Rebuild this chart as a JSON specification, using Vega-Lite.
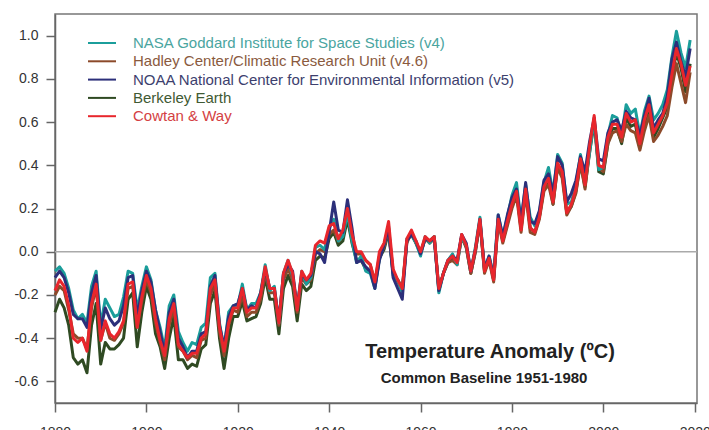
{
  "$schema": "https://vega.github.io/schema/vega-lite/v6.json",
  "autosize": "none",
  "width": 642,
  "height": 389,
  "padding": {"left": 55, "top": 14, "right": 12, "bottom": 27},
  "background": "white",
  "config": {
    "font": "Liberation Sans",
    "view": {"stroke": "#777777", "strokeWidth": 1.5},
    "axis": {"domainColor": "#666666", "domainWidth": 1.5, "tickColor": "#666666", "tickWidth": 1.5, "tickSize": 9, "labelFontSize": 14, "labelColor": "#333333", "grid": false, "title": null}
  },
  "datasets": {
    "temps": [
      {"year":1880,"c_GISS":-0.09,"b_HAD":-0.20,"d_NOAA":-0.12,"a_BEST":-0.28,"e_CW":-0.18},
      {"year":1881,"c_GISS":-0.07,"b_HAD":-0.16,"d_NOAA":-0.09,"a_BEST":-0.22,"e_CW":-0.13},
      {"year":1882,"c_GISS":-0.10,"b_HAD":-0.18,"d_NOAA":-0.12,"a_BEST":-0.26,"e_CW":-0.16},
      {"year":1883,"c_GISS":-0.17,"b_HAD":-0.27,"d_NOAA":-0.19,"a_BEST":-0.34,"e_CW":-0.25},
      {"year":1884,"c_GISS":-0.27,"b_HAD":-0.38,"d_NOAA":-0.29,"a_BEST":-0.49,"e_CW":-0.40},
      {"year":1885,"c_GISS":-0.31,"b_HAD":-0.40,"d_NOAA":-0.31,"a_BEST":-0.52,"e_CW":-0.42},
      {"year":1886,"c_GISS":-0.29,"b_HAD":-0.40,"d_NOAA":-0.31,"a_BEST":-0.50,"e_CW":-0.40},
      {"year":1887,"c_GISS":-0.33,"b_HAD":-0.45,"d_NOAA":-0.35,"a_BEST":-0.56,"e_CW":-0.46},
      {"year":1888,"c_GISS":-0.16,"b_HAD":-0.26,"d_NOAA":-0.19,"a_BEST":-0.34,"e_CW":-0.24},
      {"year":1889,"c_GISS":-0.09,"b_HAD":-0.16,"d_NOAA":-0.11,"a_BEST":-0.24,"e_CW":-0.15},
      {"year":1890,"c_GISS":-0.34,"b_HAD":-0.41,"d_NOAA":-0.36,"a_BEST":-0.52,"e_CW":-0.41},
      {"year":1891,"c_GISS":-0.22,"b_HAD":-0.33,"d_NOAA":-0.26,"a_BEST":-0.42,"e_CW":-0.32},
      {"year":1892,"c_GISS":-0.26,"b_HAD":-0.40,"d_NOAA":-0.31,"a_BEST":-0.45,"e_CW":-0.38},
      {"year":1893,"c_GISS":-0.30,"b_HAD":-0.41,"d_NOAA":-0.34,"a_BEST":-0.45,"e_CW":-0.40},
      {"year":1894,"c_GISS":-0.29,"b_HAD":-0.38,"d_NOAA":-0.32,"a_BEST":-0.43,"e_CW":-0.37},
      {"year":1895,"c_GISS":-0.21,"b_HAD":-0.33,"d_NOAA":-0.25,"a_BEST":-0.40,"e_CW":-0.32},
      {"year":1896,"c_GISS":-0.09,"b_HAD":-0.17,"d_NOAA":-0.12,"a_BEST":-0.22,"e_CW":-0.15},
      {"year":1897,"c_GISS":-0.10,"b_HAD":-0.16,"d_NOAA":-0.11,"a_BEST":-0.19,"e_CW":-0.14},
      {"year":1898,"c_GISS":-0.27,"b_HAD":-0.35,"d_NOAA":-0.30,"a_BEST":-0.44,"e_CW":-0.35},
      {"year":1899,"c_GISS":-0.16,"b_HAD":-0.23,"d_NOAA":-0.18,"a_BEST":-0.28,"e_CW":-0.21},
      {"year":1900,"c_GISS":-0.07,"b_HAD":-0.13,"d_NOAA":-0.09,"a_BEST":-0.16,"e_CW":-0.11},
      {"year":1901,"c_GISS":-0.13,"b_HAD":-0.19,"d_NOAA":-0.14,"a_BEST":-0.22,"e_CW":-0.17},
      {"year":1902,"c_GISS":-0.27,"b_HAD":-0.33,"d_NOAA":-0.27,"a_BEST":-0.38,"e_CW":-0.31},
      {"year":1903,"c_GISS":-0.35,"b_HAD":-0.42,"d_NOAA":-0.37,"a_BEST":-0.44,"e_CW":-0.41},
      {"year":1904,"c_GISS":-0.45,"b_HAD":-0.50,"d_NOAA":-0.47,"a_BEST":-0.54,"e_CW":-0.48},
      {"year":1905,"c_GISS":-0.25,"b_HAD":-0.34,"d_NOAA":-0.28,"a_BEST":-0.40,"e_CW":-0.31},
      {"year":1906,"c_GISS":-0.20,"b_HAD":-0.26,"d_NOAA":-0.22,"a_BEST":-0.30,"e_CW":-0.24},
      {"year":1907,"c_GISS":-0.37,"b_HAD":-0.44,"d_NOAA":-0.40,"a_BEST":-0.50,"e_CW":-0.43},
      {"year":1908,"c_GISS":-0.42,"b_HAD":-0.46,"d_NOAA":-0.44,"a_BEST":-0.50,"e_CW":-0.46},
      {"year":1909,"c_GISS":-0.46,"b_HAD":-0.50,"d_NOAA":-0.49,"a_BEST":-0.54,"e_CW":-0.49},
      {"year":1910,"c_GISS":-0.42,"b_HAD":-0.48,"d_NOAA":-0.46,"a_BEST":-0.52,"e_CW":-0.47},
      {"year":1911,"c_GISS":-0.43,"b_HAD":-0.49,"d_NOAA":-0.46,"a_BEST":-0.53,"e_CW":-0.47},
      {"year":1912,"c_GISS":-0.35,"b_HAD":-0.41,"d_NOAA":-0.38,"a_BEST":-0.45,"e_CW":-0.40},
      {"year":1913,"c_GISS":-0.33,"b_HAD":-0.40,"d_NOAA":-0.37,"a_BEST":-0.43,"e_CW":-0.38},
      {"year":1914,"c_GISS":-0.12,"b_HAD":-0.20,"d_NOAA":-0.16,"a_BEST":-0.24,"e_CW":-0.17},
      {"year":1915,"c_GISS":-0.10,"b_HAD":-0.15,"d_NOAA":-0.11,"a_BEST":-0.18,"e_CW":-0.13},
      {"year":1916,"c_GISS":-0.33,"b_HAD":-0.37,"d_NOAA":-0.34,"a_BEST":-0.40,"e_CW":-0.35},
      {"year":1917,"c_GISS":-0.45,"b_HAD":-0.48,"d_NOAA":-0.44,"a_BEST":-0.54,"e_CW":-0.46},
      {"year":1918,"c_GISS":-0.28,"b_HAD":-0.34,"d_NOAA":-0.30,"a_BEST":-0.40,"e_CW":-0.33},
      {"year":1919,"c_GISS":-0.25,"b_HAD":-0.27,"d_NOAA":-0.25,"a_BEST":-0.30,"e_CW":-0.26},
      {"year":1920,"c_GISS":-0.25,"b_HAD":-0.28,"d_NOAA":-0.24,"a_BEST":-0.30,"e_CW":-0.26},
      {"year":1921,"c_GISS":-0.15,"b_HAD":-0.20,"d_NOAA":-0.17,"a_BEST":-0.23,"e_CW":-0.17},
      {"year":1922,"c_GISS":-0.27,"b_HAD":-0.30,"d_NOAA":-0.27,"a_BEST":-0.32,"e_CW":-0.28},
      {"year":1923,"c_GISS":-0.24,"b_HAD":-0.28,"d_NOAA":-0.25,"a_BEST":-0.31,"e_CW":-0.26},
      {"year":1924,"c_GISS":-0.24,"b_HAD":-0.28,"d_NOAA":-0.26,"a_BEST":-0.30,"e_CW":-0.26},
      {"year":1925,"c_GISS":-0.19,"b_HAD":-0.22,"d_NOAA":-0.19,"a_BEST":-0.24,"e_CW":-0.20},
      {"year":1926,"c_GISS":-0.06,"b_HAD":-0.10,"d_NOAA":-0.08,"a_BEST":-0.12,"e_CW":-0.07},
      {"year":1927,"c_GISS":-0.18,"b_HAD":-0.19,"d_NOAA":-0.17,"a_BEST":-0.22,"e_CW":-0.17},
      {"year":1928,"c_GISS":-0.16,"b_HAD":-0.19,"d_NOAA":-0.17,"a_BEST":-0.22,"e_CW":-0.17},
      {"year":1929,"c_GISS":-0.33,"b_HAD":-0.34,"d_NOAA":-0.32,"a_BEST":-0.38,"e_CW":-0.33},
      {"year":1930,"c_GISS":-0.10,"b_HAD":-0.13,"d_NOAA":-0.10,"a_BEST":-0.17,"e_CW":-0.10},
      {"year":1931,"c_GISS":-0.04,"b_HAD":-0.08,"d_NOAA":-0.06,"a_BEST":-0.11,"e_CW":-0.04},
      {"year":1932,"c_GISS":-0.11,"b_HAD":-0.13,"d_NOAA":-0.09,"a_BEST":-0.16,"e_CW":-0.10},
      {"year":1933,"c_GISS":-0.26,"b_HAD":-0.28,"d_NOAA":-0.26,"a_BEST":-0.32,"e_CW":-0.27},
      {"year":1934,"c_GISS":-0.09,"b_HAD":-0.12,"d_NOAA":-0.10,"a_BEST":-0.15,"e_CW":-0.09},
      {"year":1935,"c_GISS":-0.15,"b_HAD":-0.15,"d_NOAA":-0.13,"a_BEST":-0.18,"e_CW":-0.13},
      {"year":1936,"c_GISS":-0.12,"b_HAD":-0.13,"d_NOAA":-0.11,"a_BEST":-0.16,"e_CW":-0.10},
      {"year":1937,"c_GISS":0.02,"b_HAD":-0.01,"d_NOAA":0.00,"a_BEST":-0.04,"e_CW":0.03},
      {"year":1938,"c_GISS":0.03,"b_HAD":0.01,"d_NOAA":-0.01,"a_BEST":-0.02,"e_CW":0.05},
      {"year":1939,"c_GISS":0.01,"b_HAD":0.00,"d_NOAA":-0.05,"a_BEST":-0.03,"e_CW":0.04},
      {"year":1940,"c_GISS":0.11,"b_HAD":0.08,"d_NOAA":0.09,"a_BEST":0.06,"e_CW":0.12},
      {"year":1941,"c_GISS":0.15,"b_HAD":0.10,"d_NOAA":0.23,"a_BEST":0.09,"e_CW":0.13},
      {"year":1942,"c_GISS":0.05,"b_HAD":0.05,"d_NOAA":0.10,"a_BEST":0.03,"e_CW":0.06},
      {"year":1943,"c_GISS":0.07,"b_HAD":0.08,"d_NOAA":0.09,"a_BEST":0.05,"e_CW":0.10},
      {"year":1944,"c_GISS":0.18,"b_HAD":0.19,"d_NOAA":0.24,"a_BEST":0.15,"e_CW":0.20},
      {"year":1945,"c_GISS":0.05,"b_HAD":0.07,"d_NOAA":0.11,"a_BEST":0.04,"e_CW":0.08},
      {"year":1946,"c_GISS":-0.05,"b_HAD":-0.01,"d_NOAA":-0.05,"a_BEST":-0.04,"e_CW":0.00},
      {"year":1947,"c_GISS":-0.02,"b_HAD":-0.01,"d_NOAA":-0.04,"a_BEST":-0.04,"e_CW":0.00},
      {"year":1948,"c_GISS":-0.09,"b_HAD":-0.04,"d_NOAA":-0.07,"a_BEST":-0.08,"e_CW":-0.04},
      {"year":1949,"c_GISS":-0.10,"b_HAD":-0.06,"d_NOAA":-0.09,"a_BEST":-0.09,"e_CW":-0.06},
      {"year":1950,"c_GISS":-0.17,"b_HAD":-0.14,"d_NOAA":-0.17,"a_BEST":-0.16,"e_CW":-0.14},
      {"year":1951,"c_GISS":-0.03,"b_HAD":-0.02,"d_NOAA":-0.04,"a_BEST":-0.03,"e_CW":0.00},
      {"year":1952,"c_GISS":0.03,"b_HAD":0.02,"d_NOAA":0.03,"a_BEST":0.01,"e_CW":0.04},
      {"year":1953,"c_GISS":0.12,"b_HAD":0.10,"d_NOAA":0.11,"a_BEST":0.09,"e_CW":0.14},
      {"year":1954,"c_GISS":-0.11,"b_HAD":-0.09,"d_NOAA":-0.12,"a_BEST":-0.10,"e_CW":-0.08},
      {"year":1955,"c_GISS":-0.13,"b_HAD":-0.14,"d_NOAA":-0.17,"a_BEST":-0.13,"e_CW":-0.13},
      {"year":1956,"c_GISS":-0.19,"b_HAD":-0.18,"d_NOAA":-0.22,"a_BEST":-0.17,"e_CW":-0.17},
      {"year":1957,"c_GISS":0.06,"b_HAD":0.04,"d_NOAA":0.05,"a_BEST":0.05,"e_CW":0.06},
      {"year":1958,"c_GISS":0.08,"b_HAD":0.09,"d_NOAA":0.08,"a_BEST":0.08,"e_CW":0.10},
      {"year":1959,"c_GISS":0.04,"b_HAD":0.04,"d_NOAA":0.05,"a_BEST":0.04,"e_CW":0.05},
      {"year":1960,"c_GISS":-0.02,"b_HAD":-0.01,"d_NOAA":-0.01,"a_BEST":0.00,"e_CW":0.00},
      {"year":1961,"c_GISS":0.07,"b_HAD":0.06,"d_NOAA":0.06,"a_BEST":0.06,"e_CW":0.07},
      {"year":1962,"c_GISS":0.04,"b_HAD":0.04,"d_NOAA":0.05,"a_BEST":0.05,"e_CW":0.05},
      {"year":1963,"c_GISS":0.07,"b_HAD":0.06,"d_NOAA":0.06,"a_BEST":0.07,"e_CW":0.07},
      {"year":1964,"c_GISS":-0.19,"b_HAD":-0.18,"d_NOAA":-0.18,"a_BEST":-0.17,"e_CW":-0.17},
      {"year":1965,"c_GISS":-0.10,"b_HAD":-0.10,"d_NOAA":-0.10,"a_BEST":-0.10,"e_CW":-0.10},
      {"year":1966,"c_GISS":-0.04,"b_HAD":-0.05,"d_NOAA":-0.04,"a_BEST":-0.05,"e_CW":-0.04},
      {"year":1967,"c_GISS":-0.01,"b_HAD":-0.04,"d_NOAA":-0.02,"a_BEST":-0.02,"e_CW":-0.02},
      {"year":1968,"c_GISS":-0.06,"b_HAD":-0.06,"d_NOAA":-0.04,"a_BEST":-0.05,"e_CW":-0.05},
      {"year":1969,"c_GISS":0.07,"b_HAD":0.07,"d_NOAA":0.08,"a_BEST":0.07,"e_CW":0.08},
      {"year":1970,"c_GISS":0.03,"b_HAD":0.02,"d_NOAA":0.04,"a_BEST":0.02,"e_CW":0.03},
      {"year":1971,"c_GISS":-0.09,"b_HAD":-0.10,"d_NOAA":-0.09,"a_BEST":-0.10,"e_CW":-0.09},
      {"year":1972,"c_GISS":0.02,"b_HAD":0.00,"d_NOAA":0.01,"a_BEST":0.00,"e_CW":0.01},
      {"year":1973,"c_GISS":0.16,"b_HAD":0.14,"d_NOAA":0.15,"a_BEST":0.14,"e_CW":0.15},
      {"year":1974,"c_GISS":-0.08,"b_HAD":-0.10,"d_NOAA":-0.08,"a_BEST":-0.09,"e_CW":-0.09},
      {"year":1975,"c_GISS":-0.02,"b_HAD":-0.04,"d_NOAA":-0.02,"a_BEST":-0.03,"e_CW":-0.03},
      {"year":1976,"c_GISS":-0.11,"b_HAD":-0.14,"d_NOAA":-0.12,"a_BEST":-0.13,"e_CW":-0.13},
      {"year":1977,"c_GISS":0.17,"b_HAD":0.14,"d_NOAA":0.17,"a_BEST":0.15,"e_CW":0.15},
      {"year":1978,"c_GISS":0.07,"b_HAD":0.04,"d_NOAA":0.07,"a_BEST":0.05,"e_CW":0.05},
      {"year":1979,"c_GISS":0.16,"b_HAD":0.12,"d_NOAA":0.17,"a_BEST":0.13,"e_CW":0.14},
      {"year":1980,"c_GISS":0.26,"b_HAD":0.20,"d_NOAA":0.25,"a_BEST":0.22,"e_CW":0.22},
      {"year":1981,"c_GISS":0.32,"b_HAD":0.26,"d_NOAA":0.29,"a_BEST":0.28,"e_CW":0.28},
      {"year":1982,"c_GISS":0.14,"b_HAD":0.09,"d_NOAA":0.14,"a_BEST":0.11,"e_CW":0.10},
      {"year":1983,"c_GISS":0.31,"b_HAD":0.27,"d_NOAA":0.32,"a_BEST":0.29,"e_CW":0.29},
      {"year":1984,"c_GISS":0.16,"b_HAD":0.09,"d_NOAA":0.14,"a_BEST":0.11,"e_CW":0.11},
      {"year":1985,"c_GISS":0.12,"b_HAD":0.08,"d_NOAA":0.13,"a_BEST":0.09,"e_CW":0.09},
      {"year":1986,"c_GISS":0.18,"b_HAD":0.15,"d_NOAA":0.19,"a_BEST":0.16,"e_CW":0.16},
      {"year":1987,"c_GISS":0.32,"b_HAD":0.28,"d_NOAA":0.33,"a_BEST":0.29,"e_CW":0.30},
      {"year":1988,"c_GISS":0.39,"b_HAD":0.31,"d_NOAA":0.36,"a_BEST":0.34,"e_CW":0.34},
      {"year":1989,"c_GISS":0.27,"b_HAD":0.22,"d_NOAA":0.27,"a_BEST":0.22,"e_CW":0.23},
      {"year":1990,"c_GISS":0.45,"b_HAD":0.39,"d_NOAA":0.44,"a_BEST":0.40,"e_CW":0.41},
      {"year":1991,"c_GISS":0.41,"b_HAD":0.34,"d_NOAA":0.40,"a_BEST":0.36,"e_CW":0.37},
      {"year":1992,"c_GISS":0.22,"b_HAD":0.17,"d_NOAA":0.23,"a_BEST":0.18,"e_CW":0.18},
      {"year":1993,"c_GISS":0.23,"b_HAD":0.21,"d_NOAA":0.27,"a_BEST":0.21,"e_CW":0.22},
      {"year":1994,"c_GISS":0.31,"b_HAD":0.27,"d_NOAA":0.33,"a_BEST":0.28,"e_CW":0.29},
      {"year":1995,"c_GISS":0.45,"b_HAD":0.41,"d_NOAA":0.44,"a_BEST":0.41,"e_CW":0.43},
      {"year":1996,"c_GISS":0.33,"b_HAD":0.29,"d_NOAA":0.37,"a_BEST":0.30,"e_CW":0.31},
      {"year":1997,"c_GISS":0.46,"b_HAD":0.48,"d_NOAA":0.51,"a_BEST":0.46,"e_CW":0.49},
      {"year":1998,"c_GISS":0.61,"b_HAD":0.61,"d_NOAA":0.62,"a_BEST":0.60,"e_CW":0.63},
      {"year":1999,"c_GISS":0.38,"b_HAD":0.39,"d_NOAA":0.43,"a_BEST":0.37,"e_CW":0.40},
      {"year":2000,"c_GISS":0.39,"b_HAD":0.37,"d_NOAA":0.42,"a_BEST":0.36,"e_CW":0.39},
      {"year":2001,"c_GISS":0.54,"b_HAD":0.50,"d_NOAA":0.55,"a_BEST":0.50,"e_CW":0.53},
      {"year":2002,"c_GISS":0.63,"b_HAD":0.55,"d_NOAA":0.60,"a_BEST":0.57,"e_CW":0.59},
      {"year":2003,"c_GISS":0.62,"b_HAD":0.56,"d_NOAA":0.61,"a_BEST":0.57,"e_CW":0.59},
      {"year":2004,"c_GISS":0.54,"b_HAD":0.51,"d_NOAA":0.56,"a_BEST":0.50,"e_CW":0.53},
      {"year":2005,"c_GISS":0.68,"b_HAD":0.59,"d_NOAA":0.65,"a_BEST":0.62,"e_CW":0.64},
      {"year":2006,"c_GISS":0.64,"b_HAD":0.56,"d_NOAA":0.62,"a_BEST":0.58,"e_CW":0.60},
      {"year":2007,"c_GISS":0.66,"b_HAD":0.55,"d_NOAA":0.61,"a_BEST":0.59,"e_CW":0.61},
      {"year":2008,"c_GISS":0.54,"b_HAD":0.47,"d_NOAA":0.54,"a_BEST":0.48,"e_CW":0.50},
      {"year":2009,"c_GISS":0.65,"b_HAD":0.56,"d_NOAA":0.63,"a_BEST":0.59,"e_CW":0.61},
      {"year":2010,"c_GISS":0.72,"b_HAD":0.63,"d_NOAA":0.71,"a_BEST":0.67,"e_CW":0.68},
      {"year":2011,"c_GISS":0.61,"b_HAD":0.51,"d_NOAA":0.57,"a_BEST":0.53,"e_CW":0.55},
      {"year":2012,"c_GISS":0.64,"b_HAD":0.54,"d_NOAA":0.61,"a_BEST":0.57,"e_CW":0.59},
      {"year":2013,"c_GISS":0.68,"b_HAD":0.58,"d_NOAA":0.64,"a_BEST":0.62,"e_CW":0.63},
      {"year":2014,"c_GISS":0.75,"b_HAD":0.63,"d_NOAA":0.72,"a_BEST":0.67,"e_CW":0.69},
      {"year":2015,"c_GISS":0.90,"b_HAD":0.76,"d_NOAA":0.89,"a_BEST":0.81,"e_CW":0.82},
      {"year":2016,"c_GISS":1.02,"b_HAD":0.87,"d_NOAA":0.97,"a_BEST":0.92,"e_CW":0.94},
      {"year":2017,"c_GISS":0.92,"b_HAD":0.78,"d_NOAA":0.88,"a_BEST":0.85,"e_CW":0.87},
      {"year":2018,"c_GISS":0.85,"b_HAD":0.69,"d_NOAA":0.81,"a_BEST":0.74,"e_CW":0.77},
      {"year":2019,"c_GISS":0.98,"b_HAD":0.83,"d_NOAA":0.94,"a_BEST":0.87,"e_CW":0.86}
    ],
    "notes": [
      {"year": 1975.2, "value": -0.466, "label": "Temperature Anomaly (ºC)"}
    ],
    "notes2": [
      {"year": 1973.9, "value": -0.586, "label": "Common Baseline 1951-1980"}
    ]
  },
  "layer": [
    {
      "data": {"values": [{"value": 0}]},
      "mark": {"type": "rule", "color": "#aaaaaa", "strokeWidth": 1.5},
      "encoding": {
        "y": {"field": "value", "type": "quantitative", "scale": {"domain": [-0.7, 1.1], "nice": false, "zero": false}}
      }
    },
    {
      "data": {"name": "temps"},
      "transform": [{"fold": ["a_BEST", "b_HAD", "c_GISS", "d_NOAA", "e_CW"], "as": ["series", "value"]}],
      "mark": {"type": "line", "strokeWidth": 3, "strokeJoin": "round"},
      "encoding": {
        "x": {
          "field": "year", "type": "quantitative",
          "scale": {"domain": [1880, 2020.5], "nice": false, "zero": false},
          "axis": {"values": [1880, 1900, 1920, 1940, 1960, 1980, 2000, 2020], "format": "d", "labelPadding": 13, "labelFlush": false}
        },
        "y": {
          "field": "value", "type": "quantitative",
          "scale": {"domain": [-0.7, 1.1], "nice": false, "zero": false},
          "axis": {"values": [-0.6, -0.4, -0.2, 0, 0.2, 0.4, 0.6, 0.8, 1.0], "labelExpr": "replace(format(datum.value, '.1f'), '−', '-')", "labelPadding": 8}
        },
        "color": {
          "field": "series", "type": "nominal",
          "scale": {
            "domain": ["c_GISS", "b_HAD", "d_NOAA", "a_BEST", "e_CW"],
            "range": ["#1b9e9b", "#8c4a2a", "#2c2f7a", "#2f4a22", "#e8262c"]
          },
          "legend": {
            "title": null,
            "orient": "none",
            "legendX": 39,
            "legendY": 21,
            "padding": 0,
            "rowPadding": 2.3,
            "symbolType": "M-2,0L2,0",
            "symbolSize": 196,
            "symbolStrokeWidth": 2,
            "labelFontSize": 15,
            "labelOffset": 23,
            "labelLimit": 600,
            "labelExpr": "{'c_GISS': 'NASA Goddard Institute for Space Studies (v4)', 'b_HAD': 'Hadley Center/Climatic Research Unit (v4.6)', 'd_NOAA': 'NOAA National Center for Environmental Information (v5)', 'a_BEST': 'Berkeley Earth', 'e_CW': 'Cowtan & Way'}[datum.value]",
            "encode": {
              "labels": {"update": {"fill": {"signal": "{'c_GISS': '#4aa59f', 'b_HAD': '#8a5a3e', 'd_NOAA': '#3d3f6e', 'a_BEST': '#3f5a34', 'e_CW': '#d43f43'}[datum.value]"}}}
            }
          }
        }
      }
    },
    {
      "data": {"name": "notes"},
      "mark": {"type": "text", "fontSize": 20, "fontWeight": "bold", "color": "#222222", "align": "center", "baseline": "middle"},
      "encoding": {
        "x": {"field": "year", "type": "quantitative"},
        "y": {"field": "value", "type": "quantitative"},
        "text": {"field": "label"}
      }
    },
    {
      "data": {"name": "notes2"},
      "mark": {"type": "text", "fontSize": 15, "fontWeight": "bold", "color": "#222222", "align": "center", "baseline": "middle"},
      "encoding": {
        "x": {"field": "year", "type": "quantitative"},
        "y": {"field": "value", "type": "quantitative"},
        "text": {"field": "label"}
      }
    }
  ]
}
